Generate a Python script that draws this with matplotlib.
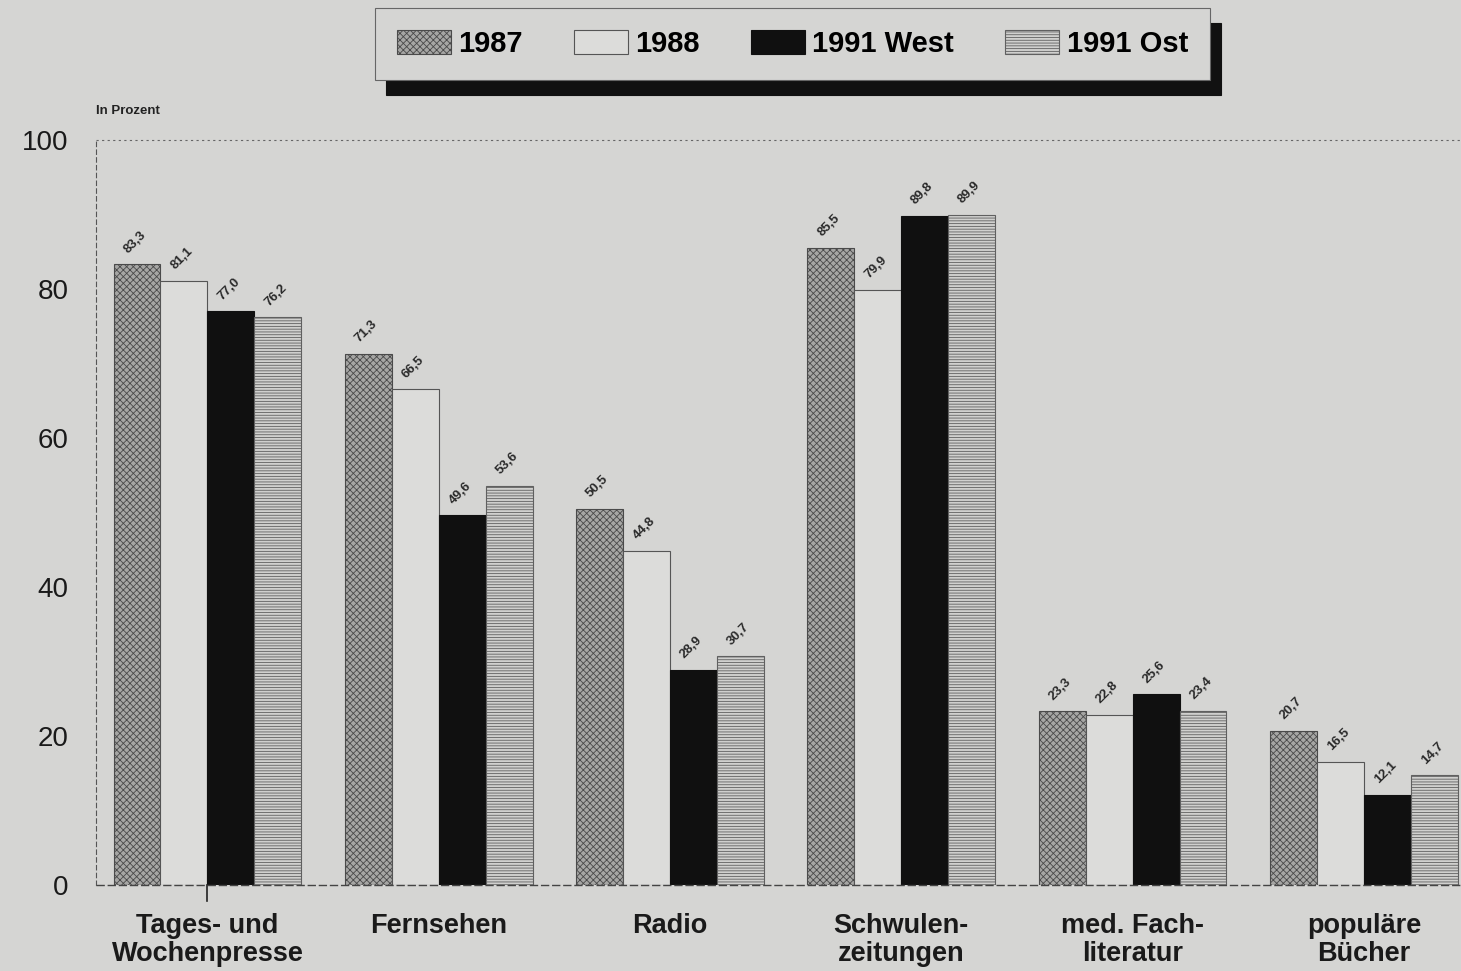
import numpy as np
import matplotlib.pyplot as plt
from matplotlib.patches import Patch

categories = ["Tages- und\nWochenpresse", "Fernsehen", "Radio",
              "Schwulen-\nzeitungen", "med. Fach-\nliteratur", "populäre\nBücher"]
series = ["1987", "1988", "1991 West", "1991 Ost"]
v1987 = [83.3, 71.3, 50.5, 85.5, 23.3, 20.7]
v1988 = [81.1, 66.5, 44.8, 79.9, 22.8, 16.5]
v1991w = [77.0, 49.6, 28.9, 89.8, 25.6, 12.1]
v1991o = [76.2, 53.6, 30.7, 89.9, 23.4, 14.7]
yticks = [0, 20, 40, 60, 80, 100]

paper = "#d5d5d3"
styles = [
    dict(facecolor="#a6a6a4", hatch="xxxxx", edgecolor="#4a4a4a"),
    dict(facecolor="#dcdcda", hatch=None, edgecolor="#555555"),
    dict(facecolor="#101010", hatch=None, edgecolor="#101010"),
    dict(facecolor="#d0d0ce", hatch="------", edgecolor="#606060"),
]

plt.rcParams["font.family"] = ["Liberation Sans", "DejaVu Sans"]
plt.rcParams["hatch.linewidth"] = 0.6
fig = plt.figure(figsize=(14.61, 9.71), dpi=100, facecolor=paper)
ax = fig.add_axes([0.066, 0.0886, 0.934, 0.7674], facecolor=paper)

x = np.arange(len(categories))
w = 0.203
handles = []
for i, (name, vals) in enumerate(zip(series, [v1987, v1988, v1991w, v1991o])):
    pos = x + (i - 1.5) * w
    st = styles[i]
    ax.bar(pos, vals, width=w, facecolor=st["facecolor"], edgecolor=st["edgecolor"],
           hatch=st["hatch"], linewidth=0.8)
    # value labels, slanted like the printed original
    for px, v in zip(pos, vals):
        ax.text(px - 0.03, v + 1.2, f"{v:.1f}".replace(".", ","), rotation=45,
                ha="left", va="bottom", fontsize=9.5, fontweight="bold",
                color="#2a2a2a", rotation_mode="anchor")
    handles.append(Patch(facecolor=st["facecolor"], edgecolor=st["edgecolor"],
                         hatch=st["hatch"], linewidth=0.8, label=name))

ax.set_xlim(-0.48, 5.42)
ax.set_ylim(0, 100)
for s in ["top", "right", "bottom"]:
    ax.spines[s].set_visible(False)
ax.spines["left"].set_linestyle((0, (4, 3)))
ax.spines["left"].set_color("#555555")
ax.spines["left"].set_linewidth(0.8)
ax.axhline(0, color="#444444", lw=1.0, ls=(0, (6, 2)), clip_on=False)
ax.axhline(100, color="#666666", lw=0.8, ls=(0, (2, 3)), clip_on=False)
ax.plot([0, 0], [0, -2.2], color="#222222", lw=1.2, clip_on=False)

ax.set_yticks(yticks)
ax.set_yticklabels([str(t) for t in yticks], fontsize=20, color="#1a1a1a")
ax.tick_params(axis="y", length=0, pad=20)
ax.set_xticks(x)
ax.set_xticklabels(categories, fontsize=19.5, fontweight="bold", color="#1a1a1a",
                   linespacing=1.1)
ax.tick_params(axis="x", length=0, pad=20)

ax.text(0.0, 1.03, "In Prozent", transform=ax.transAxes, fontsize=9.5,
        fontweight="bold", color="#222222", ha="left", va="bottom")

leg = fig.legend(handles=handles, loc="center", bbox_to_anchor=(0.5424, 0.9547),
                 ncol=4, prop={"weight": "bold", "size": 21},
                 frameon=True, fancybox=False, edgecolor="#666666",
                 facecolor=paper, framealpha=1, handlelength=1.85, handleheight=0.9,
                 columnspacing=1.76, handletextpad=0.25, borderpad=0.75,
                 borderaxespad=0,
                 shadow={"ox": 8, "oy": -11, "color": "#111111", "alpha": 1})
leg.get_frame().set_linewidth(0.8)

fig.savefig("out.png", dpi=100, facecolor=paper)
